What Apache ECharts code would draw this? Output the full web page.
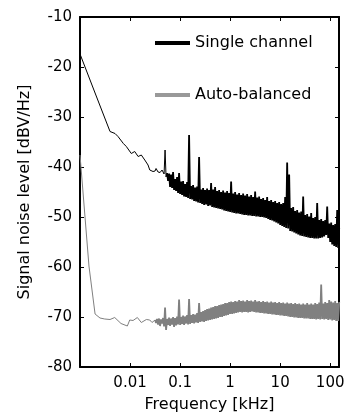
<!DOCTYPE html>
<html><head><meta charset="utf-8">
<script src="https://cdn.jsdelivr.net/npm/echarts@6/dist/echarts.min.js"></script>
<style>html,body{margin:0;padding:0;background:#fff}#c{width:347px;height:414px}</style>
</head><body><div id="c"></div>
<script>
// ---- data (frequency in kHz, level in dBV/Hz) ----
const seriesNames = ['Single channel', 'Auto-balanced'];
const xTickExp = [-2, -1, 0, 1, 2];
const xTickLabels = ['0.01', '0.1', '1', '10', '100'];
const yTickLabels = ['-80', '-70', '-60', '-50', '-40', '-30', '-20', '-10'];

// low-frequency part, single channel
const blackLowF = [0.001, 0.002, 0.00398, 0.00501, 0.00575, 0.00735, 0.00843, 0.0106, 0.0124, 0.0145, 0.0168, 0.0197, 0.0229, 0.0248, 0.0288];
const blackLowV = [-17.4, -25.2, -32.9, -33.3, -33.9, -35.3, -35.9, -37.3, -36.9, -37.9, -37.6, -38.6, -39.6, -40.6, -40.9];

// low-frequency part, auto-balanced
const grayLowF = [0.001, 0.00151, 0.002, 0.00251, 0.00312, 0.00398, 0.00494, 0.0066, 0.00883, 0.00986, 0.0115, 0.014, 0.0168, 0.0212, 0.0248, 0.0275];
const grayLowV = [-37.6, -59.8, -69.4, -70.2, -70.4, -70.5, -70.1, -71.3, -71.8, -70.6, -70.7, -70.1, -71.1, -70.5, -70.6, -71.1];

// dense spectrum part: log10 of frequency (kHz)
const bandLogF = [
-1.50,-1.48,-1.46,-1.44,-1.42,-1.40,-1.38,-1.36,-1.34,-1.32,
-1.30,-1.28,-1.26,-1.24,-1.22,-1.20,-1.18,-1.16,-1.14,-1.12,
-1.10,-1.08,-1.06,-1.04,-1.02,-1.00,-0.98,-0.96,-0.94,-0.92,
-0.90,-0.88,-0.86,-0.84,-0.82,-0.80,-0.78,-0.76,-0.74,-0.72,
-0.70,-0.68,-0.66,-0.64,-0.62,-0.60,-0.58,-0.56,-0.54,-0.52,
-0.50,-0.48,-0.46,-0.44,-0.42,-0.40,-0.38,-0.36,-0.34,-0.32,
-0.30,-0.28,-0.26,-0.24,-0.22,-0.20,-0.18,-0.16,-0.14,-0.12,
-0.10,-0.08,-0.06,-0.04,-0.02,0.00,0.02,0.04,0.06,0.08,
0.10,0.12,0.14,0.16,0.18,0.20,0.22,0.24,0.26,0.28,
0.30,0.32,0.34,0.36,0.38,0.40,0.42,0.44,0.46,0.48,
0.50,0.52,0.54,0.56,0.58,0.60,0.62,0.64,0.66,0.68,
0.70,0.72,0.74,0.76,0.78,0.80,0.82,0.84,0.86,0.88,
0.90,0.92,0.94,0.96,0.98,1.00,1.02,1.04,1.06,1.08,
1.10,1.12,1.14,1.16,1.18,1.20,1.22,1.24,1.26,1.28,
1.30,1.32,1.34,1.36,1.38,1.40,1.42,1.44,1.46,1.48,
1.50,1.52,1.54,1.56,1.58,1.60,1.62,1.64,1.66,1.68,
1.70,1.72,1.74,1.76,1.78,1.80,1.82,1.84,1.86,1.88,
1.90,1.92,1.94,1.96,1.98,2.00,2.02,2.04,2.06,2.08,
2.10,2.12,2.14,2.16,2.18];

const blackBandV = [
-40.8,-40.3,-40.6,-41.0,-41.3,-41.1,-40.8,-40.6,-40.7,-41.4,
-36.6,-42.0,-41.2,-42.8,-41.3,-44.0,-41.5,-44.2,-41.0,-44.6,
-42.4,-44.8,-42.0,-45.2,-41.2,-45.4,-42.9,-45.6,-42.8,-45.9,
-43.4,-46.0,-43.0,-46.2,-33.6,-46.4,-43.8,-46.5,-43.6,-46.8,
-44.1,-46.9,-43.9,-47.1,-38.0,-47.2,-44.5,-47.4,-44.2,-47.6,
-44.6,-47.5,-44.3,-47.8,-44.6,-47.7,-43.2,-48.0,-44.5,-48.1,
-44.0,-48.2,-44.8,-48.3,-44.6,-48.4,-45.0,-48.5,-44.7,-48.7,
-45.1,-48.8,-44.8,-48.9,-45.2,-49.0,-42.9,-49.1,-45.3,-49.2,
-45.0,-49.3,-45.5,-49.3,-45.2,-49.4,-45.6,-49.5,-45.3,-49.6,
-45.7,-49.6,-45.4,-49.7,-45.9,-49.7,-45.6,-49.8,-46.0,-49.8,
-44.9,-49.9,-46.1,-49.9,-45.9,-50.0,-46.4,-50.0,-46.2,-50.1,
-46.6,-50.2,-46.0,-50.4,-46.8,-50.6,-46.6,-50.7,-47.0,-50.9,
-46.8,-51.1,-47.2,-51.3,-47.0,-51.6,-47.4,-51.8,-47.2,-52.0,
-46.0,-52.2,-39.1,-52.3,-41.5,-52.8,-48.2,-52.9,-48.0,-53.1,
-48.8,-53.3,-48.6,-53.5,-49.1,-53.7,-48.9,-53.8,-45.9,-53.9,
-49.6,-54.0,-49.4,-54.1,-49.9,-54.2,-49.2,-54.2,-50.2,-54.3,
-50.0,-54.3,-47.2,-54.3,-50.6,-54.2,-50.4,-54.1,-50.8,-53.9,
-50.6,-53.6,-47.9,-54.2,-51.3,-55.0,-51.1,-55.5,-51.6,-55.8,
-51.4,-56.0,-48.6,-56.2,-52.2];

const grayBandV = [
-70.6,-71.2,-70.4,-71.5,-70.3,-71.8,-70.5,-71.3,-70.2,-71.9,
-68.1,-72.6,-70.4,-71.6,-70.1,-71.8,-70.3,-71.5,-70.0,-72.0,
-70.2,-71.7,-69.9,-71.5,-66.5,-71.6,-70.0,-71.4,-69.7,-71.6,
-69.9,-71.3,-69.6,-71.5,-66.4,-71.4,-69.6,-71.2,-69.4,-71.3,
-69.5,-71.1,-69.2,-71.2,-67.2,-71.0,-69.0,-70.9,-68.8,-71.0,
-68.6,-70.8,-68.4,-70.7,-68.3,-70.6,-68.1,-70.5,-68.0,-70.4,
-67.8,-70.3,-67.8,-70.2,-67.6,-70.0,-67.5,-70.0,-67.4,-69.8,
-67.2,-69.7,-67.2,-69.6,-67.0,-69.4,-66.9,-69.4,-67.0,-69.3,
-66.8,-69.2,-66.9,-69.1,-66.6,-69.0,-66.8,-69.1,-66.7,-69.0,
-66.9,-69.0,-66.6,-69.1,-66.8,-69.0,-66.7,-68.9,-66.9,-69.0,
-66.6,-69.1,-66.9,-69.1,-66.8,-69.2,-67.0,-69.2,-66.8,-69.3,
-67.0,-69.3,-66.9,-69.4,-67.1,-69.4,-66.9,-69.5,-67.1,-69.5,
-67.0,-69.6,-67.2,-69.6,-67.0,-69.7,-67.2,-69.7,-67.1,-69.8,
-67.3,-69.8,-67.1,-69.9,-67.3,-70.0,-67.2,-70.0,-67.4,-70.1,
-67.2,-70.1,-67.4,-70.2,-67.3,-70.2,-67.5,-70.2,-67.3,-70.3,
-67.5,-70.3,-67.2,-70.3,-67.5,-70.4,-67.3,-70.4,-67.5,-70.4,
-67.2,-70.5,-67.4,-70.4,-67.1,-70.5,-63.5,-70.4,-67.3,-70.5,
-67.0,-70.4,-67.2,-70.6,-66.6,-70.5,-66.9,-70.7,-67.1,-70.6,
-66.8,-70.8,-67.2,-70.8,-67.0];

// index in the dense grid where each trace turns into a dense band
const blackBandStart = 12;
const grayBandStart = 0;

// ---- build series data ----
function lowPart(lowF, lowV, bandV, upto) {
  const out = [];
  for (let i = 0; i < lowF.length; i++) out.push([lowF[i], lowV[i]]);
  for (let i = 0; i <= upto; i++) out.push([Math.pow(10, bandLogF[i]), bandV[i]]);
  return out;
}
function bandPart(bandV, from) {
  const out = [];
  for (let i = from; i < bandLogF.length; i++) out.push([Math.pow(10, bandLogF[i]), bandV[i]]);
  return out;
}
const blackLine = lowPart(blackLowF, blackLowV, blackBandV, blackBandStart);
const blackBand = bandPart(blackBandV, blackBandStart);
const grayLine = lowPart(grayLowF, grayLowV, grayBandV, grayBandStart);
const grayBand = bandPart(grayBandV, grayBandStart);

const FONT = 'DejaVu Sans';
const axisLine = { show: true, onZero: false, lineStyle: { color: '#000', width: 2 } };
const tick = { show: true, inside: true, length: 4, lineStyle: { color: '#000', width: 1 } };

function lineSeries(name, data, color, width, z) {
  return {
    name, type: 'line', data, xAxisIndex: 0, yAxisIndex: 0,
    symbol: 'none', showSymbol: false, silent: true, z,
    lineStyle: { color, width, join: 'bevel' }, itemStyle: { color }
  };
}

const chart = echarts.init(document.getElementById('c'), null, { renderer: 'canvas' });
chart.setOption({
  animation: false,
  backgroundColor: '#fff',
  grid: { left: 80, right: 8, top: 17, bottom: 47, containLabel: false, outerBoundsMode: 'none' },
  legend: {
    orient: 'vertical', left: 155, top: 35, padding: 0,
    itemWidth: 35, itemHeight: 4, itemGap: 36,
    textStyle: { fontFamily: FONT, fontSize: 16, color: '#000', lineHeight: 16 },
    data: [
      { name: seriesNames[0], icon: 'rect', itemStyle: { color: '#000' } },
      { name: seriesNames[1], icon: 'rect', itemStyle: { color: '#999' } }
    ],
    selectedMode: false
  },
  xAxis: [{
    type: 'log', logBase: 10, min: 0.001, max: 150, position: 'bottom',
    name: 'Frequency [kHz]', nameLocation: 'middle', nameGap: 30,
    nameTextStyle: { fontFamily: FONT, fontSize: 16, color: '#000' },
    axisLine, axisTick: tick, splitLine: { show: false }, minorTick: { show: false },
    axisLabel: {
      fontFamily: FONT, fontSize: 15, color: '#000', margin: 9,
      formatter: function (v) {
        const e = Math.round(Math.log10(v));
        const i = xTickExp.indexOf(e);
        return i >= 0 ? xTickLabels[i] : '';
      }
    }
  }, {
    type: 'log', logBase: 10, min: 0.001, max: 150, position: 'top',
    axisLine, axisTick: tick, axisLabel: { show: false }, splitLine: { show: false }
  }],
  yAxis: [{
    type: 'value', min: -80, max: -10, interval: 10, position: 'left',
    name: 'Signal noise level [dBV/Hz]', nameLocation: 'middle', nameGap: 47,
    nameTextStyle: { fontFamily: FONT, fontSize: 16, color: '#000' },
    axisLine, axisTick: tick, splitLine: { show: false },
    axisLabel: {
      fontFamily: FONT, fontSize: 15, color: '#000', margin: 8,
      formatter: function (v) { const i = Math.round((v + 80) / 10); return yTickLabels[i] || ''; }
    }
  }, {
    type: 'value', min: -80, max: -10, interval: 10, position: 'right',
    axisLine, axisTick: tick, axisLabel: { show: false }, splitLine: { show: false }
  }],
  series: [
    lineSeries(seriesNames[1], grayLine, '#808080', 1, 2),
    lineSeries(seriesNames[1], grayBand, '#808080', 1.8, 2),
    lineSeries(seriesNames[0], blackLine, '#000', 1, 3),
    lineSeries(seriesNames[0], blackBand, '#000', 1.8, 3)
  ]
});
</script>
</body></html>
